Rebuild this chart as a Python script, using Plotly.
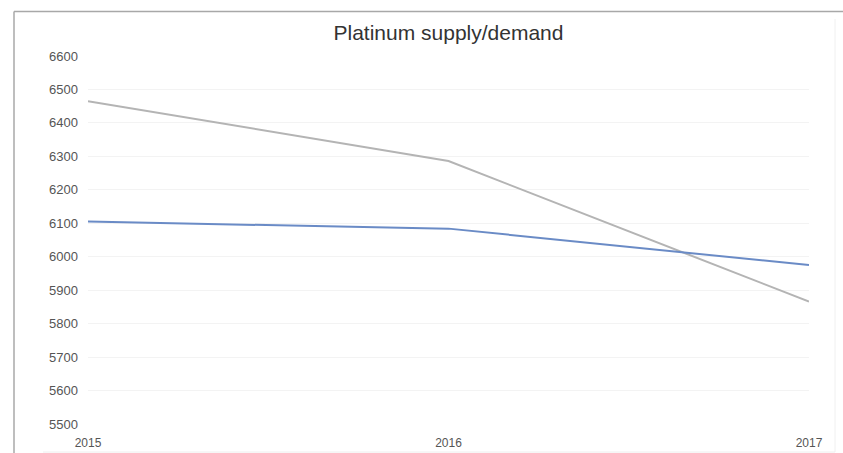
import plotly.graph_objects as go

# Platinum supply / demand, thousand ounces
years = [2015, 2016, 2017]
supply = [6105, 6084, 5975]
demand = [6465, 6286, 5866]
y_ticks = list(range(5500, 6700, 100))

fig = go.Figure()
fig.add_trace(go.Scatter(
    x=years, y=demand, mode="lines", name="Demand",
    line=dict(color="#b4b4b4", width=2),
))
fig.add_trace(go.Scatter(
    x=years, y=supply, mode="lines", name="Supply",
    line=dict(color="#6a8bc6", width=2),
))

L, R, T, B = 88, 34, 56, 29
W, H = 843, 453
pw, ph = W - L - R, H - T - B


def px_x(p):
    return (p - L) / pw


def px_y(p):
    return (H - B - p) / ph


frame = "#a8a8a8"
fig.update_layout(
    width=W, height=H,
    margin=dict(l=L, r=R, t=T, b=B),
    paper_bgcolor="white", plot_bgcolor="white",
    showlegend=False,
    font=dict(family="Liberation Sans, Arial, sans-serif", color="#555"),
    title=dict(
        text="Platinum supply/demand",
        x=0.5, xanchor="center", xref="paper",
        y=1 - 33 / H, yanchor="middle",
        font=dict(size=21, color="#333333"),
    ),
    xaxis=dict(
        range=[2015, 2017], tickvals=years, ticktext=[str(y) for y in years],
        showgrid=False, zeroline=False, showline=False, automargin=False,
        tickfont=dict(size=12, color="#555"), ticklabelstandoff=10,
    ),
    yaxis=dict(
        range=[5500, 6600], tickvals=y_ticks, automargin=False,
        showgrid=True, gridcolor="#f3f3f3", gridwidth=1,
        zeroline=False, showline=False,
        tickfont=dict(size=13, color="#555"), ticklabelstandoff=9,
    ),
    shapes=[
        dict(type="line", xref="paper", yref="paper",
             x0=px_x(14), x1=px_x(W), y0=px_y(11.5), y1=px_y(11.5),
             line=dict(color=frame, width=1.5)),
        dict(type="line", xref="paper", yref="paper",
             x0=px_x(14), x1=px_x(14), y0=px_y(11.5), y1=px_y(H),
             line=dict(color=frame, width=1.5)),
        dict(type="line", xref="paper", yref="paper",
             x0=px_x(835), x1=px_x(835), y0=px_y(19), y1=px_y(452),
             line=dict(color="#f0f0f0", width=1)),
        dict(type="line", xref="paper", yref="paper",
             x0=px_x(43), x1=px_x(835), y0=px_y(452), y1=px_y(452),
             line=dict(color="#eeeeee", width=1)),
    ],
)

fig.write_html("out.html")
